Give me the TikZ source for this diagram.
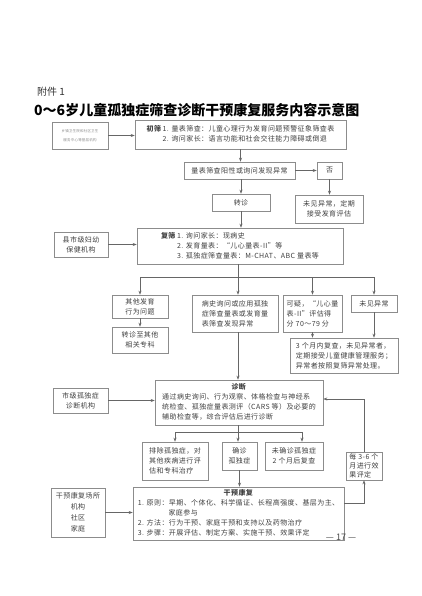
\documentclass[tikz,border=0pt]{standalone}
\usepackage{fontspec}
\setmainfont{Noto Sans CJK SC}
\newfontfamily\bxfont[LetterSpace=6]{Noto Sans CJK SC}
\usetikzlibrary{arrows.meta}
\newcommand{\bxsize}{\fontsize{7}{10}\selectfont}
\tikzset{
  box/.style={draw=black!45, line width=0.6pt, inner sep=1pt, font=\bxfont\bxsize, text=black!75, align=center},
  sitebox/.style={box, font=\bxfont\fontsize{7}{11}\selectfont},
  flow/.style={draw=black!60, line width=0.6pt, -{Stealth[length=4pt,width=3pt]}},
  link/.style={draw=black!60, line width=0.6pt}
}

\begin{document}
\begin{tikzpicture}[x=1pt, y=-1pt]
  \useasboundingbox[fill=white] (0,0) rectangle (421,596);
  \node[font=\fontsize{10}{12}\selectfont, text=black!80, anchor=west, inner sep=0pt] (fujian) at (37,92) {附件 1};
  \node[font=\bfseries\fontsize{14}{16}\selectfont, anchor=west, inner sep=0pt] (biaoti) at (34,110) {0～6岁儿童孤独症筛查诊断干预康复服务内容示意图};

  \node[box, minimum width=56, minimum height=27, font=\bxfont\fontsize{3.5}{9}\selectfont, text=black!45] (jiceng) at (80,135.5) {乡镇卫生院和社区卫生\\服务中心等基层机构};
  \node[box, minimum width=211, minimum height=29] (chushai) at (240.5,134.5) {\begin{tabular}{@{}l@{\,}l@{}}\textbf{初筛} & 1. 量表筛查：儿童心理行为发育问题预警征象筛查表\\ & 2. 询问家长：语言功能和社会交往能力障碍或倒退\end{tabular}};
  \node[box, minimum width=111, minimum height=17] (yangxing) at (239.5,170.5) {量表筛查阳性或询问发现异常};
  \node[box, minimum width=25, minimum height=17] (fou) at (329.5,170.5) {否};
  \node[box, minimum width=58, minimum height=17] (zhuanzhen) at (241,202.5) {转诊};
  \node[box, minimum width=68, minimum height=28] (weijian) at (329,209) {未见异常，定期\\接受发育评估};
  \node[box, minimum width=206, minimum height=36] (fushai) at (240,246) {\begin{tabular}{@{}l@{\,}l@{}}\textbf{复筛} & 1. 询问家长：现病史\\ & 2. 发育量表：“儿心量表-II”等\\ & 3. 孤独症筛查量表：M-CHAT、ABC 量表等\end{tabular}};
  \node[box, minimum width=54, minimum height=25] (xianshi) at (81,244.5) {县市级妇幼\\保健机构};

  \node[box, minimum width=56, minimum height=23] (qita) at (140,306.5) {其他发育\\行为问题};
  \node[box, minimum width=56, minimum height=26] (zhuanke) at (140,340) {转诊至其他\\相关专科};
  \node[box, minimum width=86, minimum height=37, align=left] (bingshi) at (235,313.5) {病史询问或应用孤独\\症筛查量表或发育量\\表筛查发现异常};
  \node[box, minimum width=59, minimum height=37, align=left] (keyi) at (312.5,313.5) {可疑，“儿心量\\表-II”评估得\\分 70～79 分};
  \node[box, minimum width=46, minimum height=17] (weijian2) at (374,303.5) {未见异常};
  \node[box, minimum width=108, minimum height=35, align=left] (fucha) at (344,355.5) {3 个月内复查，未见异常者，\\定期接受儿童健康管理服务；\\异常者按照复筛异常处理。};

  \node[box, minimum width=55, minimum height=25] (shiji) at (80.5,400.5) {市级孤独症\\诊断机构};
  \node[box, minimum width=168, minimum height=45] (zhenduan) at (239,402.5) {\begin{tabular}{@{}l@{}}\multicolumn{1}{@{}c@{}}{\textbf{诊断}}\\ 通过病史询问、行为观察、体格检查与神经系\\ 统检查、孤独症量表测评（CARS 等）及必要的\\ 辅助检查等，综合评估后进行诊断\end{tabular}};
  \node[box, minimum width=66, minimum height=38, align=left] (paichu) at (175,461) {排除孤独症，对\\其他疾病进行评\\估和专科治疗};
  \node[box, minimum width=35, minimum height=28] (quezhen) at (239.5,456) {确诊\\孤独症};
  \node[box, minimum width=58, minimum height=28] (weiquezhen) at (294,456) {未确诊孤独症\\2 个月后复查};
  \node[box, minimum width=36, minimum height=28, align=left, font=\bxfont\fontsize{7}{9}\selectfont] (pingding) at (364,466) {每 3-6 个\\月进行效\\果评定};

  \node[box, minimum width=211, minimum height=53] (ganyu) at (238.5,513.5) {\begin{tabular}{@{}l@{}}\multicolumn{1}{@{}c@{}}{\textbf{干预康复}}\\ 1. 原则：早期、个体化、科学循证、长程高强度、基层为主、\\ \phantom{1. 原则：}家庭参与\\ 2. 方法：行为干预、家庭干预和支持以及药物治疗\\ 3. 步骤：开展评估、制定方案、实施干预、效果评定\end{tabular}};
  \node[sitebox, minimum width=54, minimum height=49] (changsuo) at (78,512.5) {干预康复场所\\机构\\社区\\家庭};
  \node[font=\fontsize{9}{10}\selectfont, text=black!70] (yema) at (341,537) {— 17 —};

  \coordinate (fenzhi) at (238,277);
  \coordinate (fenzuo) at (140,277);
  \coordinate (fenyou) at (374,277);
  \coordinate (hezhen) at (238,432);
  \coordinate (hezuo) at (175,432);
  \coordinate (heyou) at (302,432);
  \coordinate (xiaoguo) at (364,503);
  \coordinate (fankui) at (364,399);

  \draw[flow] (jiceng.east) -- (jiceng.east -| chushai.west);
  \draw[flow] (chushai.south) -- (chushai.south |- yangxing.north);
  \draw[flow] (yangxing.east) -- (fou.west);
  \draw[flow] (fou.south) -- (fou.south |- weijian.north);
  \draw[flow] (zhuanzhen.north |- yangxing.south) -- (zhuanzhen.north);
  \draw[flow] (zhuanzhen.south) -- (zhuanzhen.south |- fushai.north);
  \draw[flow] (xianshi.east) -- (xianshi.east -| fushai.west);
  \draw[link] (fenzhi |- fushai.south) -- (fenzhi);
  \draw[link] (fenzuo) -- (fenyou);
  \draw[flow] (fenzuo) -- (qita.north);
  \draw[flow] (fenzhi) -- (fenzhi |- bingshi.north);
  \draw[flow] (fenzhi -| keyi.north) -- (keyi.north);
  \draw[flow] (fenyou) -- (weijian2.north);
  \draw[flow] (qita.south) -- (zhuanke.north);
  \draw[flow] (keyi.south) -- (keyi.south |- fucha.north);
  \draw[flow] (weijian2.south) -- (weijian2.south |- fucha.north);
  \draw[flow] (fenzhi |- bingshi.south) -- (fenzhi |- zhenduan.north);
  \draw[flow] (shiji.east) -- (shiji.east -| zhenduan.west);
  \draw[link] (hezhen |- zhenduan.south) -- (hezhen);
  \draw[link] (hezuo) -- (heyou);
  \draw[flow] (hezuo) -- (paichu.north);
  \draw[flow] (hezhen) -- (hezhen |- quezhen.north);
  \draw[flow] (heyou) -- (heyou |- weiquezhen.north);
  \draw[flow] (quezhen.south) -- (quezhen.south |- ganyu.north);
  \draw[flow] (changsuo.east) -- (changsuo.east -| ganyu.west);
  \draw[flow] (ganyu.east |- xiaoguo) -| (pingding.south);
  \draw[flow] (pingding.north) |- (fankui -| zhenduan.east);
\end{tikzpicture}
\end{document}
